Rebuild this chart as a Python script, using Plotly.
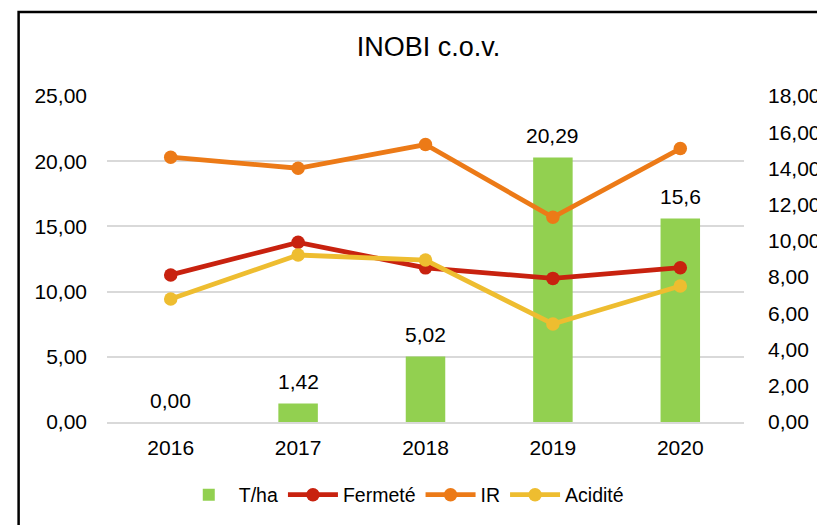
import plotly.graph_objects as go

years = [2016, 2017, 2018, 2019, 2020]
t_ha = [0.00, 1.42, 5.02, 20.29, 15.6]
t_ha_labels = ["0,00", "1,42", "5,02", "20,29", "15,6"]
fermete = [8.12, 9.92, 8.51, 7.93, 8.52]
ir = [14.62, 14.01, 15.32, 11.30, 15.10]
acidite = [6.79, 9.22, 8.94, 5.41, 7.51]

# The page body has an 8px margin; screen coordinates below are compensated.
OFF = 8
W, H = 825, 525
PX0, PX1, PY0, PY1 = 106.5, 751.5, 96, 422   # plot area in screen pixels
L = PX0 - OFF
T = PY0 - OFF
R = W - (PX1 - OFF)
B = H - (PY1 - OFF)
PW, PH = PX1 - PX0, PY1 - PY0

def px_x(x):
    return (x - PX0) / PW

def px_y(y):
    return (PY1 - y) / PH

FONT = "Liberation Sans, Arial, sans-serif"
GREEN = "#92D050"
RED = "#C8220F"
ORANGE = "#EC7A17"
YELLOW = "#EEBD30"

fig = go.Figure()
fig.add_trace(go.Bar(x=years, y=t_ha, name="T/ha", marker_color=GREEN,
                     marker_line_width=0, yaxis="y"))
for name, vals, col in [("Fermeté", fermete, RED), ("IR", ir, ORANGE), ("Acidité", acidite, YELLOW)]:
    fig.add_trace(go.Scatter(x=years, y=vals, name=name, mode="lines+markers",
                             line=dict(color=col, width=4.8),
                             marker=dict(color=col, size=13.5), yaxis="y2"))

annotations = [dict(x=xv, y=yv, xref="x", yref="y", text=lab, showarrow=False,
                    yanchor="middle", yshift=22,
                    font=dict(family=FONT, size=21, color="#000000"))
               for xv, yv, lab in zip(years, t_ha, t_ha_labels)]

fig.update_layout(
    width=W, height=H,
    margin=dict(l=L, r=R, t=T, b=B, pad=0),
    paper_bgcolor="white", plot_bgcolor="white",
    separators=", ",
    font=dict(family=FONT, size=21, color="#000000"),
    title=dict(text="INOBI c.o.v.", xref="container", x=(428.5 - OFF) / W, xanchor="center",
               yref="container", y=1 - (47 - OFF) / H, yanchor="middle",
               font=dict(family=FONT, size=27, color="#000000")),
    bargap=0.69,
    showlegend=True,
    legend=dict(orientation="h", x=px_x(407), xanchor="center", y=px_y(495), yanchor="middle",
                font=dict(family=FONT, size=19.5, color="#000000"),
                itemwidth=50, traceorder="normal"),
    xaxis=dict(range=[2015.5, 2020.5], tickvals=years, tickformat="d",
               showgrid=False, showline=True, linecolor="#D9D9D9", zeroline=False,
               linewidth=2, ticks="", ticklabelstandoff=6,
               tickfont=dict(family=FONT, size=21, color="#000000")),
    yaxis=dict(range=[0, 25], dtick=5, tickformat=".2f", showgrid=True,
               gridcolor="#D9D9D9", gridwidth=2, zeroline=False, showline=False,
               ticks="", ticklabelstandoff=19,
               tickfont=dict(family=FONT, size=21, color="#000000")),
    yaxis2=dict(range=[0, 18], dtick=2, tickformat=".2f", overlaying="y", side="right",
                showgrid=False, zeroline=False, showline=False, ticks="",
                ticklabelstandoff=23,
                tickfont=dict(family=FONT, size=21, color="#000000")),
    annotations=annotations,
    shapes=[dict(type="rect", xref="paper", yref="paper",
                 x0=px_x(17), x1=px_x(845), y0=px_y(545), y1=px_y(12),
                 line=dict(color="#000000", width=2.5), fillcolor="rgba(0,0,0,0)",
                 layer="above")],
)

fig.write_html("out.html")
